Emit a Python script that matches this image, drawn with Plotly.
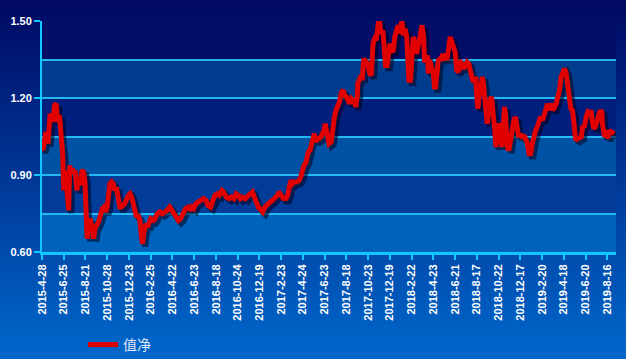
import base64
import plotly.graph_objects as go

# ---------------- data ----------------
tick_labels = ["2015-4-28", "2015-6-25", "2015-8-21", "2015-10-28", "2015-12-23",
               "2016-2-25", "2016-4-22", "2016-6-23", "2016-8-18", "2016-10-24",
               "2016-12-19", "2017-2-23", "2017-4-24", "2017-6-23", "2017-8-18",
               "2017-10-23", "2017-12-19", "2018-2-22", "2018-4-23", "2018-6-21",
               "2018-8-17", "2018-10-22", "2018-12-17", "2019-2-20", "2019-4-18",
               "2019-6-20", "2019-8-16"]
tick_days = [0, 40, 80, 120, 160, 200, 240, 280, 320, 360, 400, 440, 480, 520, 560,
             600, 640, 680, 720, 760, 800, 840, 880, 920, 960, 1000, 1040]

trade_day = [0, 1, 4, 7, 11, 12, 15, 20, 23, 26, 29, 32, 35, 38, 40, 43, 46, 49, 51, 53,
             56, 58, 61, 64, 67, 70, 73, 76, 79, 81, 83, 86, 89, 92, 95, 98, 101, 105, 108, 111,
             114, 117, 120, 122, 125, 128,
             131, 134, 137, 140, 143, 146, 152, 159, 162, 165, 168, 171, 174, 177, 180, 183, 185,
             187, 191, 194, 197, 200, 205, 208, 212, 217, 221, 226, 230, 235, 239, 241, 246, 251,
             255, 260, 264,
             269, 273, 276, 279, 283, 288, 293, 297, 302, 305, 310, 314, 318, 322, 326, 331, 334,
             339, 344, 348, 353, 357, 361, 365, 369, 374, 379, 383, 387, 390,
             393, 398, 403, 406, 410, 415, 420, 424, 428, 433, 436, 441, 444, 449, 452, 455, 458,
             461, 464, 469, 473, 476, 479, 482, 486, 488, 490, 493, 496, 498, 501, 504, 507, 510,
             513, 516, 519, 521, 524, 527, 528,
             532, 535, 538, 541, 545, 547, 551, 554, 557, 560, 563, 566, 569, 572, 575, 577, 580,
             581, 584, 587, 589, 592, 594, 597, 600, 603, 606, 609, 612, 615, 618, 620, 622, 624,
             627, 630, 632, 635, 637, 640, 643, 646, 649, 652, 655, 658,
             662, 665, 668, 671, 673, 675, 678, 680, 683, 686, 689, 693, 696, 699, 702, 704, 706,
             709, 711, 713, 716, 720, 722, 724, 727, 729, 733, 735, 739, 742, 745, 748, 751, 754,
             757, 760, 763, 766, 769, 772, 776, 779, 782, 785, 788, 791, 794,
             798, 799, 802, 804, 807, 810, 812, 814, 817, 819, 822, 824, 827, 830, 833, 835, 838,
             841, 844, 846, 849, 851, 853, 856, 859, 862, 865, 868, 871, 874, 877, 881, 884, 887,
             890, 893, 896, 899, 902, 905, 908, 911, 914, 917, 921, 923, 927,
             930, 933, 936, 940, 943, 946, 949, 952, 955, 958, 961, 964, 967, 970, 973, 976, 979,
             982, 986, 989, 992, 995, 998, 1001, 1004, 1007, 1010, 1012, 1015, 1018, 1021, 1024,
             1027, 1030, 1031, 1035, 1038, 1041, 1044, 1047, 1050, 1053]

nav = [1.035, 0.996, 1.022, 1.068, 1.022, 1.087, 1.139, 1.107, 1.172, 1.178, 1.107, 1.133,
       1.035, 0.983, 0.840, 0.918, 0.840, 0.762, 0.938, 0.905, 0.925, 0.905, 0.918, 0.840,
       0.879, 0.860, 0.912, 0.918, 0.879, 0.775, 0.652, 0.711, 0.730, 0.685, 0.652, 0.698,
       0.704, 0.724, 0.750, 0.769, 0.775, 0.756, 0.775, 0.814, 0.867, 0.873,
       0.866, 0.840, 0.853, 0.814, 0.775, 0.775, 0.788, 0.821, 0.827, 0.814, 0.782, 0.762,
       0.736, 0.743, 0.723, 0.658, 0.632, 0.671, 0.710, 0.697, 0.723, 0.730, 0.723, 0.730,
       0.749, 0.756, 0.749, 0.756, 0.762, 0.775, 0.762, 0.756, 0.736, 0.723, 0.730, 0.749,
       0.769,
       0.775, 0.762, 0.775, 0.769, 0.788, 0.795, 0.801, 0.808, 0.801, 0.782, 0.775, 0.795,
       0.821, 0.827, 0.821, 0.840, 0.834, 0.814, 0.808, 0.814, 0.808, 0.827, 0.821, 0.808,
       0.814, 0.808, 0.821, 0.827, 0.834, 0.821,
       0.801, 0.775, 0.762, 0.756, 0.775, 0.788, 0.795, 0.801, 0.808, 0.821, 0.834, 0.821,
       0.808, 0.808, 0.821, 0.853, 0.879, 0.866, 0.873, 0.873, 0.879, 0.892, 0.918, 0.938,
       0.951, 0.970, 0.990, 0.996, 1.022, 1.055, 1.061, 1.029, 1.042, 1.042, 1.048, 1.061,
       1.074, 1.100, 1.074, 1.029, 1.022,
       1.029, 1.100, 1.126, 1.152, 1.171, 1.184, 1.223, 1.230, 1.210, 1.204, 1.191, 1.178,
       1.197, 1.191, 1.184, 1.165, 1.204, 1.256, 1.275, 1.288, 1.269, 1.353, 1.347, 1.340,
       1.327, 1.295, 1.288, 1.412, 1.431, 1.425, 1.483, 1.516, 1.477, 1.451, 1.464, 1.405,
       1.327, 1.327, 1.386, 1.412, 1.386, 1.379, 1.438, 1.470, 1.483, 1.451,
       1.503, 1.444, 1.470, 1.438, 1.373, 1.269, 1.269, 1.360, 1.438, 1.418, 1.373, 1.412,
       1.464, 1.483, 1.438, 1.340, 1.347, 1.366, 1.295, 1.347, 1.321, 1.295, 1.243, 1.243,
       1.301, 1.347, 1.353, 1.360, 1.347, 1.373, 1.347, 1.399, 1.438, 1.418, 1.386, 1.379,
       1.308, 1.301, 1.347, 1.334, 1.314, 1.327, 1.340, 1.334, 1.301, 1.280, 1.262,
       1.282, 1.230, 1.158, 1.204, 1.262, 1.282, 1.256, 1.191, 1.152, 1.100, 1.152, 1.191,
       1.204, 1.152, 1.074, 1.009, 1.048, 1.100, 1.087, 1.009, 1.100, 1.165, 1.126, 1.009,
       0.996, 1.048, 1.074, 1.113, 1.126, 1.087, 1.048, 1.061, 1.042, 1.055, 1.042, 1.022,
       0.983, 0.983, 1.022, 1.061, 1.074, 1.087, 1.113, 1.126, 1.113, 1.126, 1.152,
       1.178, 1.152, 1.178, 1.152, 1.165, 1.178, 1.204, 1.230, 1.282, 1.308, 1.314, 1.301,
       1.256, 1.204, 1.158, 1.152, 1.100, 1.035, 1.042, 1.048, 1.048, 1.093, 1.087, 1.126,
       1.145, 1.139, 1.152, 1.113, 1.081, 1.087, 1.113, 1.145, 1.152, 1.145, 1.100, 1.048,
       1.074, 1.042, 1.074, 1.068, 1.061, 1.061]

series_name = "值净"

# ---------------- layout geometry ----------------
W, H = 626, 359
ML, MR, MT, MB = 42, 10, 21, 107
PW, PH = W - ML - MR, H - MT - MB

svg = (
    '<svg xmlns="http://www.w3.org/2000/svg" width="626" height="359" '
    'preserveAspectRatio="none" viewBox="0 0 626 359">'
    '<defs><linearGradient id="g" x1="0" y1="0" x2="0" y2="1">'
    '<stop offset="0" stop-color="#000862"/>'
    '<stop offset="1" stop-color="#0068cc"/>'
    '</linearGradient></defs>'
    '<rect width="626" height="359" fill="url(#g)"/></svg>'
)
bg_src = "data:image/svg+xml;base64," + base64.b64encode(svg.encode()).decode()

fig = go.Figure()

# shadow of the line
fig.add_trace(go.Scatter(
    x=[d + 5 for d in trade_day], y=[v - 0.011 for v in nav],
    mode="lines", line=dict(color="rgba(0,0,25,0.55)", width=6),
    showlegend=False, hoverinfo="skip", cliponaxis=False,
))
fig.add_trace(go.Scatter(
    x=trade_day, y=nav, mode="lines", name=series_name,
    line=dict(color="#e00000", width=5), cliponaxis=False,
))

# alternating horizontal bands of the plotting area
band_edges = [(1.35, 1.50), (1.20, 1.35), (1.05, 1.20), (0.90, 1.05), (0.75, 0.90), (0.60, 0.75)]
band_colors = ["#000e68", "#003c8e", "#001f7c", "#0052a4", "#003c98", "#0062ba"]
shapes = []
for (y0, y1), col in zip(band_edges, band_colors):
    shapes.append(dict(type="rect", xref="paper", x0=0, x1=1, yref="y", y0=y0, y1=y1,
                       fillcolor=col, line=dict(width=0), layer="below"))

grid_col = "#22b8f0"
axis_col = "#10c8ff"

fig.update_layout(
    width=W, height=H,
    margin=dict(l=ML, r=MR, t=MT, b=MB, pad=0, autoexpand=False),
    paper_bgcolor="#003090",
    plot_bgcolor="rgba(0,0,0,0)",
    images=[dict(source=bg_src, xref="paper", yref="paper",
                 x=-ML / PW, y=1 + MT / PH, sizex=W / PW, sizey=H / PH,
                 xanchor="left", yanchor="top", sizing="stretch", layer="below")],
    shapes=shapes,
    showlegend=True,
    legend=dict(orientation="h", xref="container", yref="container",
                x=83 / W, xanchor="left", y=1 - 345 / H, yanchor="middle",
                bgcolor="rgba(0,0,0,0)",
                font=dict(family="Noto Sans CJK SC", size=14, color="#dfe6f5")),
    xaxis=dict(
        range=[0, 1056], tickmode="array", tickvals=tick_days, ticktext=tick_labels,
        tickangle=-90, ticks="outside", ticklen=5, tickwidth=2, tickcolor=axis_col,
        showline=True, linecolor=axis_col, linewidth=3, showgrid=False, zeroline=False,
        tickfont=dict(family="Liberation Sans", size=11, color="white", weight="bold"),
        automargin=False,
    ),
    yaxis=dict(
        range=[0.6, 1.5], tick0=0.6, dtick=0.3, tickformat=".2f",
        ticks="outside", ticklen=6, tickwidth=2, tickcolor=axis_col,
        showline=True, linecolor=axis_col, linewidth=2,
        showgrid=True, gridcolor=grid_col, gridwidth=1.5, zeroline=False,
        minor=dict(dtick=0.15, tick0=0.6, showgrid=True, gridcolor=grid_col,
                   gridwidth=1.5, ticks=""),
        tickfont=dict(family="Liberation Sans", size=11, color="white", weight="bold"),
        automargin=False,
    ),
)

fig.write_html("out.html")
